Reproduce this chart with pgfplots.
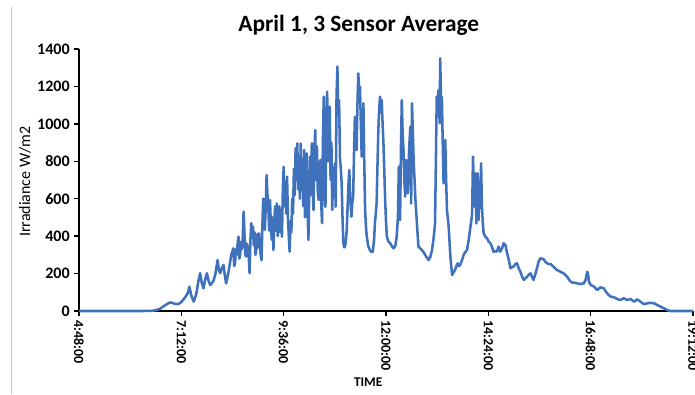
\documentclass[border=0pt]{standalone}
\usepackage{pgfplots}
\pgfplotsset{compat=1.18}
\usepackage{fontspec}
\setmainfont{Carlito}
\definecolor{lineblue}{RGB}{64,113,189}
\begin{document}
\begin{tikzpicture}[x=0.75pt,y=0.75pt]
\begin{axis}[
  at={(0,0)}, anchor=south west,
  width=460.5pt, height=196.5pt, scale only axis,
  xmin=4.8, xmax=19.2, ymin=0, ymax=1400,
  axis lines*=left, axis line style={line width=1.3pt, black, -},
  xtick={4.8,7.2,9.6,12,14.4,16.8,19.2},
  xticklabels={4:48:00,7:12:00,9:36:00,12:00:00,14:24:00,16:48:00,19:12:00},
  ytick={0,200,...,1400},
  tick align=outside, major tick length=3.5pt,
  tick style={black, line width=1pt},
  /pgf/number format/assume math mode=true,
  /pgf/number format/1000 sep={},
  yticklabel style={font=\bfseries\fontsize{12}{14}\selectfont},
  xticklabel style={font=\bfseries\fontsize{10.5}{12}\selectfont, rotate=-90, anchor=west},
  title={April 1, 3 Sensor Average},
  title style={at={(axis description cs:0.4557,1.0599)}, anchor=center, font=\bfseries\fontsize{17.5}{20}\selectfont},
  xlabel={TIME},
  xlabel style={at={(axis description cs:0.471,-0.27)}, anchor=center, font=\bfseries\fontsize{10}{12}\selectfont},
  ylabel={Irradiance W/m2},
  ylabel style={at={(axis description cs:-0.088,0.4935)}, anchor=center, font=\fontsize{12}{14}\selectfont},
  clip=false,
]
\addplot[lineblue, line width=1.9pt, line join=round] table {
x y
4.8 0
5.5 0
6.3 0
6.5 1
6.6 4
6.7 12
6.8 28
6.9 42
6.95 46
7.0 42
7.05 38
7.13 37
7.2 48
7.28 70
7.35 95
7.39 130
7.43 85
7.49 50
7.55 90
7.6 160
7.64 202
7.68 150
7.72 121
7.76 170
7.8 202
7.84 160
7.88 138
7.92 150
7.96 165
8.0 200
8.05 272
8.08 220
8.11 202
8.15 230
8.19 246
8.22 190
8.25 147
8.3 200
8.34 255
8.37 300
8.40 320
8.42 335
8.44 240
8.46 255
8.48 330
8.50 300
8.52 360
8.54 397
8.56 280
8.58 300
8.60 370
8.62 330
8.64 390
8.66 531
8.68 420
8.70 300
8.72 291
8.74 360
8.76 330
8.78 300
8.80 202
8.82 380
8.84 469
8.86 390
8.88 451
8.90 350
8.92 420
8.94 300
8.96 330
8.98 410
9.00 340
9.02 415
9.04 360
9.06 300
9.08 272
9.10 450
9.12 601
9.14 470
9.16 433
9.18 560
9.20 727
9.22 620
9.24 560
9.26 430
9.28 593
9.30 450
9.32 380
9.34 500
9.36 326
9.38 480
9.40 560
9.42 430
9.44 575
9.46 400
9.48 469
9.50 560
9.52 420
9.54 520
9.56 397
9.58 640
9.60 771
9.62 560
9.64 690
9.66 520
9.68 718
9.70 500
9.72 400
9.74 317
9.76 480
9.78 420
9.80 600
9.82 520
9.84 760
9.86 620
9.88 870
9.90 700
9.92 896
9.94 650
9.96 825
9.98 600
10.00 896
10.02 650
10.04 780
10.06 560
10.08 860
10.10 500
10.12 700
10.14 842
10.16 540
10.18 380
10.20 640
10.22 825
10.24 620
10.26 896
10.28 650
10.30 540
10.32 850
10.34 967
10.36 700
10.38 880
10.40 640
10.42 593
10.44 780
10.46 807
10.48 580
10.50 469
10.52 900
10.54 1145
10.56 700
10.58 557
10.60 1000
10.62 1172
10.64 800
10.66 950
10.68 1092
10.70 700
10.72 900
10.74 540
10.76 760
10.78 620
10.80 789
10.82 557
10.84 1150
10.86 1306
10.88 1050
10.90 1127
10.92 820
10.94 760
10.96 682
10.98 500
11.00 362
11.02 340
11.04 344
11.06 380
11.08 433
11.10 560
11.12 680
11.14 753
11.16 600
11.18 540
11.19 504
11.21 580
11.23 611
11.25 850
11.27 1038
11.29 900
11.31 860
11.33 1100
11.35 1270
11.37 1180
11.39 1199
11.41 1000
11.43 825
11.45 950
11.47 1110
11.49 800
11.51 540
11.53 450
11.55 397
11.58 350
11.62 326
11.66 315
11.69 317
11.72 380
11.74 469
11.76 520
11.78 575
11.8 780
11.82 967
11.84 1080
11.86 1145
11.88 1060
11.9 1127
11.92 1000
11.94 896
11.96 750
11.98 593
12.0 480
12.02 397
12.06 370
12.1 362
12.14 345
12.18 335
12.22 350
12.25 397
12.28 500
12.3 771
12.32 600
12.33 486
12.35 860
12.37 1127
12.39 950
12.41 860
12.43 700
12.45 611
12.47 807
12.49 660
12.51 629
12.53 789
12.55 900
12.57 985
12.59 575
12.61 1110
12.63 950
12.65 789
12.67 700
12.69 593
12.72 486
12.76 344
12.8 335
12.84 326
12.88 315
12.92 299
12.96 285
13.0 272
13.04 290
13.08 326
13.12 397
13.15 468
13.17 800
13.19 1145
13.21 1100
13.23 1181
13.25 1050
13.26 1003
13.27 1350
13.285 1200
13.3 1003
13.31 1145
13.33 900
13.35 682
13.37 800
13.39 914
13.41 700
13.43 540
13.47 450
13.51 290
13.55 192
13.58 205
13.62 219
13.65 240
13.68 255
13.71 240
13.74 246
13.78 270
13.82 299
13.86 315
13.9 326
13.94 380
13.98 450
14.0 480
14.02 522
14.04 825
14.06 650
14.08 557
14.1 736
14.12 468
14.135 600
14.15 736
14.17 486
14.19 664
14.21 550
14.23 789
14.25 557
14.27 470
14.29 415
14.33 397
14.37 389
14.41 370
14.45 362
14.49 340
14.52 317
14.56 320
14.6 317
14.64 344
14.68 317
14.72 335
14.76 362
14.8 353
14.84 310
14.88 273
14.92 228
14.96 235
14.99 237
15.03 250
15.07 255
15.11 230
15.15 210
15.19 185
15.23 166
15.27 175
15.31 183
15.35 195
15.39 201
15.43 180
15.46 166
15.5 195
15.54 228
15.58 265
15.62 281
15.66 280
15.7 276
15.74 262
15.78 255
15.82 250
15.86 251
15.9 242
15.93 237
15.97 228
16.01 219
16.05 215
16.09 210
16.13 205
16.17 201
16.21 192
16.25 183
16.29 168
16.33 157
16.37 152
16.41 151
16.45 150
16.48 148
16.52 146
16.56 144
16.6 146
16.64 148
16.68 166
16.72 210
16.74 195
16.76 157
16.8 139
16.84 135
16.88 130
16.92 120
16.96 112
17.0 122
17.03 126
17.07 124
17.11 121
17.15 105
17.19 94
17.23 84
17.27 77
17.31 75
17.35 73
17.39 68
17.42 64
17.46 61
17.5 59
17.54 64
17.58 68
17.62 63
17.66 59
17.7 62
17.74 64
17.78 56
17.82 50
17.86 57
17.89 62
17.93 56
17.97 50
18.01 42
18.05 37
18.09 39
18.13 41
18.17 43
18.21 43
18.25 42
18.29 41
18.33 36
18.36 32
18.4 28
18.44 23
18.48 18
18.52 14
18.56 9
18.6 5
18.64 2
18.68 0
19.2 0
};
\end{axis}
\draw[black!22, line width=0.75pt] (-67.5,-83) -- (-67.5,304);
\pgfresetboundingbox
\path[use as bounding box] (-79,-83) rectangle (616,311);
\end{tikzpicture}
\end{document}
